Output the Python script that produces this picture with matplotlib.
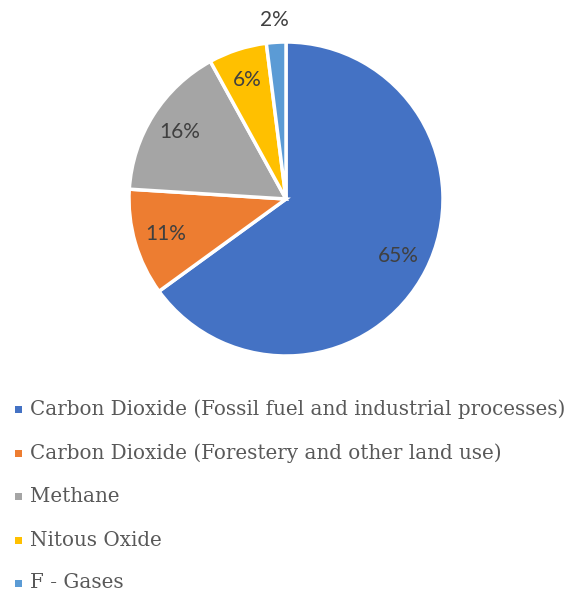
import matplotlib.pyplot as plt
import numpy as np
from matplotlib.patches import Rectangle

labels = [
    "Carbon Dioxide (Fossil fuel and industrial processes)",
    "Carbon Dioxide (Forestery and other land use)",
    "Methane",
    "Nitous Oxide",
    "F - Gases",
]
values = [65, 11, 16, 6, 2]
colors = ["#4472C4", "#ED7D31", "#A5A5A5", "#FFC000", "#5B9BD5"]

fig = plt.figure(figsize=(5.77, 5.92), dpi=100)
fig.set_facecolor("w")

W, H = 577, 592
cx, cy, r = 286, 199, 157
ax = fig.add_axes([(cx - r) / W, (H - cy - r) / H, 2 * r / W, 2 * r / H])

wedges, texts = ax.pie(
    values,
    colors=colors,
    startangle=90,
    counterclock=False,
    wedgeprops=dict(edgecolor="white", linewidth=2.5),
)
ax.set_xlim(-1, 1)
ax.set_ylim(-1, 1)
ax.set_aspect("equal")
ax.axis("off")

total = sum(values)
for w, v in zip(wedges, values):
    ang = np.deg2rad((w.theta1 + w.theta2) / 2)
    dist = 1.14 if v / total < 0.03 else 0.8
    ax.text(
        dist * np.cos(ang), dist * np.sin(ang), f"{round(100 * v / total)}%",
        ha="center", va="center", fontsize=15, color="#404040",
        family="Lato", zorder=5,
    )

ys = [409, 453, 496, 540, 583]
for lab, col, y in zip(labels, colors, ys):
    fig.patches.append(Rectangle(((15) / W, (H - y - 3.5) / H), 7 / W, 7 / H,
                                 transform=fig.transFigure, facecolor=col,
                                 edgecolor="none"))
    fig.text(30 / W, (H - y) / H, lab, ha="left", va="center",
             fontsize=14.3, color="#595959", family="DejaVu Serif")

fig.savefig("out.png", dpi=100, facecolor="w")
